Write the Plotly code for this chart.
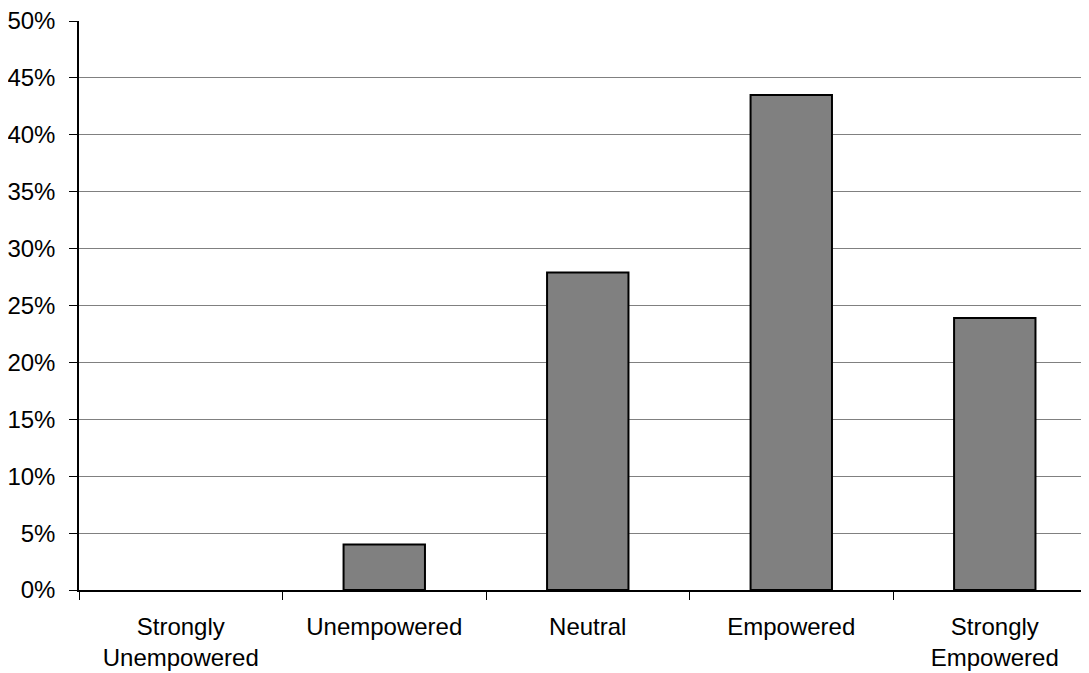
import plotly.graph_objects as go

categories = ["Strongly<br>Unempowered", "Unempowered", "Neutral", "Empowered", "Strongly<br>Empowered"]
values = [0.0, 4.0, 27.9, 43.5, 23.9]
y_ticks = [0, 5, 10, 15, 20, 25, 30, 35, 40, 45, 50]

# hide the outline of a zero-height bar (nothing visible in the reference)
outline_widths = [0 if v == 0 else 2 for v in values]

fig = go.Figure()
fig.add_trace(go.Bar(
    x=categories,
    y=values,
    width=0.4,
    marker=dict(color="#808080", line=dict(color="#000000", width=outline_widths)),
    hoverinfo="x+y",
))

font = dict(family="Liberation Sans, Arial, sans-serif", size=24, color="#000000")

# the html page body has an 8px default margin, so the figure is 8px smaller
fig.update_layout(
    width=1081,
    height=665,
    margin=dict(l=71.3, r=0, t=12.7, b=82.6, autoexpand=False),
    paper_bgcolor="#ffffff",
    plot_bgcolor="#ffffff",
    showlegend=False,
    font=font,
    bargap=0.6,
)

fig.update_xaxes(
    type="category",
    range=[-0.5, 4.463],
    automargin=False,
    showgrid=False,
    showline=True,
    linecolor="#000000",
    linewidth=1.5,
    ticks="outside",
    tickson="boundaries",
    ticklen=8,
    tickcolor="#000000",
    tickwidth=1,
    tickfont=font,
    ticklabelstandoff=14,
    ticklabeloverflow="allow",
)

fig.update_yaxes(
    range=[0, 50.0001],
    automargin=False,
    tickmode="array",
    tickvals=y_ticks,
    ticktext=[f"{v}%" for v in y_ticks],
    showgrid=True,
    gridcolor="#808080",
    gridwidth=1,
    showline=True,
    linecolor="#000000",
    linewidth=1.5,
    ticks="outside",
    ticklen=8,
    tickcolor="#000000",
    tickwidth=1,
    tickfont=font,
    ticklabelstandoff=9,
    ticklabeloverflow="allow",
    zeroline=False,
)

fig.write_html("out.html")
